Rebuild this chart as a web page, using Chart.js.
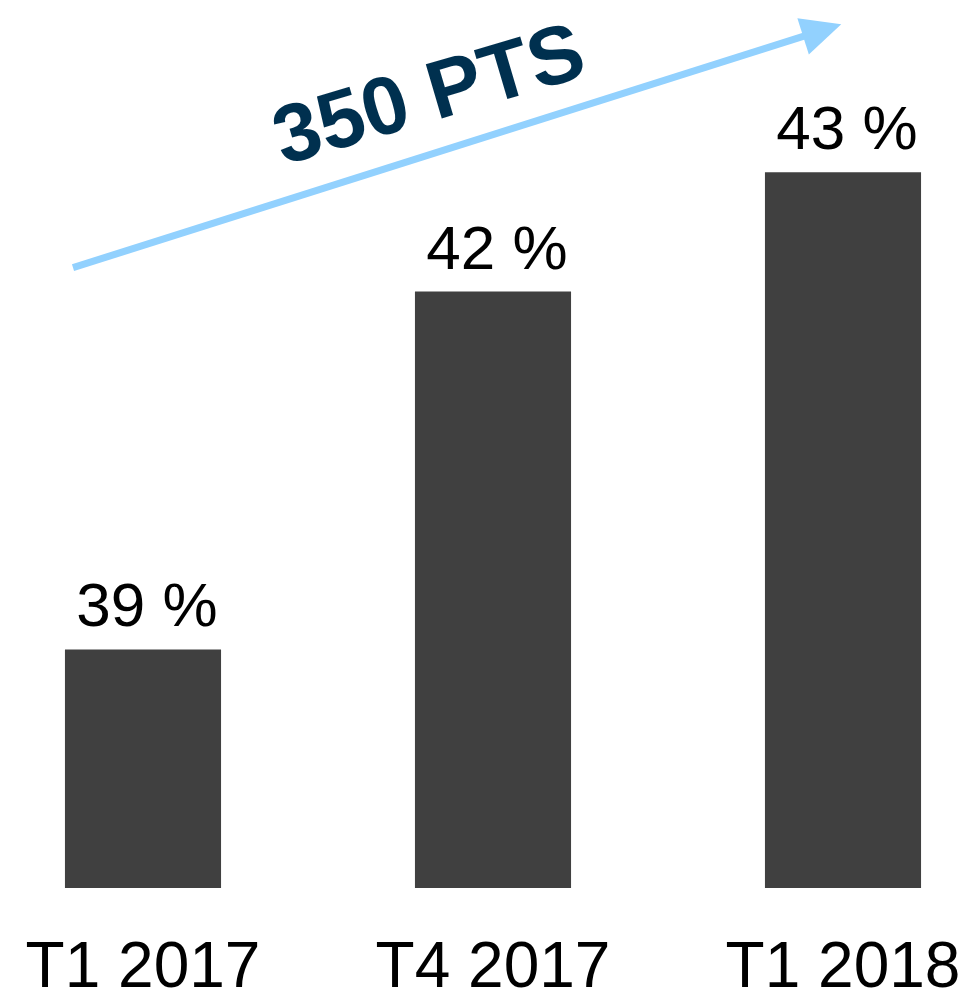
<!DOCTYPE html>
<html>
<head>
<meta charset="utf-8">
<script src="https://cdn.jsdelivr.net/npm/chart.js@4"></script>
<style>
  html, body { margin: 0; padding: 0; background: #fff; }
  #wrap { width: 972px; height: 997px; }
</style>
</head>
<body>
<div id="wrap"><canvas id="chart" width="972" height="997"></canvas></div>
<script>
// données du graphique
const categories = ['T1 2017', 'T4 2017', 'T1 2018'];
const values = [39, 42, 43];
const yMin = 37;
const yMax = 44;

// flèche de tendance (en unités de données : index de catégorie, valeur)
const trendText = '350 PTS';
const trendFrom = [-0.2, 42.2];
const trendTo = [1.995, 44.24];
const trendTextAt = [0.82, 43.62];

const FONT = '"Liberation Sans", Arial, sans-serif';

// étiquettes au-dessus des barres
const barLabels = {
    id: 'barLabels',
    afterDatasetsDraw(chart) {
        const ctx = chart.ctx;
        const meta = chart.getDatasetMeta(0);
        ctx.save();
        ctx.fillStyle = '#000';
        ctx.font = '62px ' + FONT;
        ctx.textAlign = 'center';
        ctx.textBaseline = 'alphabetic';
        meta.data.forEach(function(bar, i) {
            ctx.fillText(values[i] + ' %', bar.x + 4, bar.y - 23);
        });
        ctx.restore();
    }
};

// flèche + texte « 350 PTS »
const trendArrow = {
    id: 'trendArrow',
    afterDraw(chart) {
        const ctx = chart.ctx;
        const xs = chart.scales.x, ys = chart.scales.y;
        const x1 = xs.getPixelForValue(trendFrom[0]), y1 = ys.getPixelForValue(trendFrom[1]);
        const x2 = xs.getPixelForValue(trendTo[0]), y2 = ys.getPixelForValue(trendTo[1]);
        const ang = Math.atan2(y2 - y1, x2 - x1);
        const headLen = 40, headW = 19;
        ctx.save();
        ctx.strokeStyle = '#92d1fe';
        ctx.fillStyle = '#92d1fe';
        ctx.lineWidth = 7;
        ctx.beginPath();
        ctx.moveTo(x1, y1);
        ctx.lineTo(x2 - Math.cos(ang) * (headLen - 5), y2 - Math.sin(ang) * (headLen - 5));
        ctx.stroke();
        // pointe
        const bx = x2 - Math.cos(ang) * headLen, by = y2 - Math.sin(ang) * headLen;
        ctx.beginPath();
        ctx.moveTo(x2, y2);
        ctx.lineTo(bx + Math.sin(ang) * headW, by - Math.cos(ang) * headW);
        ctx.lineTo(bx - Math.sin(ang) * headW, by + Math.cos(ang) * headW);
        ctx.closePath();
        ctx.fill();

        // texte incliné
        const tx = xs.getPixelForValue(trendTextAt[0]), ty = ys.getPixelForValue(trendTextAt[1]);
        ctx.translate(tx, ty);
        ctx.rotate(ang + 0.02);
        ctx.fillStyle = '#00304f';
        ctx.font = 'bold 82px ' + FONT;
        ctx.textAlign = 'center';
        ctx.textBaseline = 'middle';
        ctx.fillText(trendText, 0, 0);
        ctx.restore();
    }
};

new Chart(document.getElementById('chart'), {
    type: 'bar',
    data: {
        labels: categories,
        datasets: [{
            data: values,
            backgroundColor: '#404040',
            borderWidth: 0,
            // les barres extrêmes débordent de la zone du graphique à gauche et à droite
            clip: { left: false, right: false, top: false, bottom: 0 },
            categoryPercentage: 1,
            barPercentage: 0.446
        }]
    },
    options: {
        responsive: false,
        animation: false,
        layout: { padding: { top: 53, left: 143, right: 129, bottom: 0 } },
        plugins: {
            legend: { display: false },
            tooltip: { enabled: false }
        },
        scales: {
            x: {
                offset: false,
                grid: {
                    display: true,
                    color: 'rgba(0,0,0,0)',
                    drawOnChartArea: false,
                    drawTicks: true,
                    tickLength: 54
                },
                border: { display: false },
                ticks: {
                    color: '#000',
                    padding: 0,
                    maxRotation: 0,
                    autoSkip: false,
                    font: { family: FONT, size: 64, lineHeight: 0.86 }
                }
            },
            y: {
                display: false,
                min: yMin,
                max: yMax
            }
        }
    },
    plugins: [barLabels, trendArrow]
});
</script>
</body>
</html>
